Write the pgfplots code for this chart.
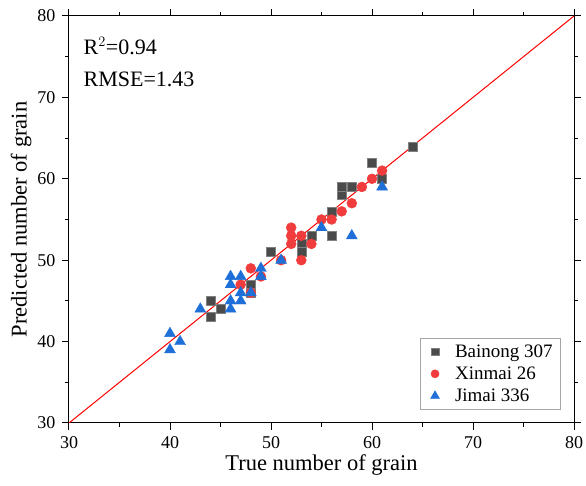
\documentclass[border=0pt]{standalone}
\usepackage{pgfplots}
\pgfplotsset{compat=1.18}
\usepackage{fontspec}
\setmainfont{Liberation Serif}
\definecolor{sq}{HTML}{4A4A4A}
\definecolor{rd}{HTML}{F03C3C}
\definecolor{bl}{HTML}{1F6FD8}
\begin{document}
\begin{tikzpicture}
\begin{axis}[
  scale only axis, width=505pt, height=407pt,
  xmin=30, xmax=80, ymin=30, ymax=80,
  xtick={30,40,...,80}, ytick={30,40,...,80},
  minor tick num=1,
  tick align=outside, tick pos=both,
  major tick length=7pt, minor tick length=4pt,
  tick style={black, line width=1pt},
  axis line style={black, line width=1pt},
  ticklabel style={font=\fontsize{18}{20}\selectfont},
  xticklabel style={yshift=-3pt},
  yticklabel style={xshift=-3pt},
  /pgf/number format/assume math mode=true,
  xlabel={True number of grain}, ylabel={Predicted number of grain},
  label style={font=\fontsize{22.5}{24}\selectfont},
  xlabel style={yshift=1pt}, ylabel style={yshift=-1pt},
  legend style={at={(0.974,0.034)}, anchor=south east, draw=gray!70, font=\fontsize{19}{21}\selectfont, row sep=4pt, inner xsep=6pt, inner ysep=4pt, nodes={inner sep=2pt}},
  legend cell align=left,
  legend image code/.code={\path[draw=none, fill=none] (0pt,0pt) -- (27pt,0pt); \draw[#1, mark size=0.82*\pgfplotmarksize] plot coordinates {(9pt,0pt)};},
]
\addplot[red, line width=1pt, forget plot] coordinates {(30,30) (80,80)};
\addplot[only marks, mark=square*, mark size=4.5pt, color=sq, mark options={draw=sq!70!white, line width=0.4pt, fill=sq}] coordinates {
(44,45) (45,44) (44,43) (48,47) (48,46) (50,51) (53,52) (53,51) (54,53) (56,53) (56,56) (57,58) (57,59) (58,59) (60,62) (61,60) (64,64)
};
\addlegendentry{Bainong 307}
\addplot[only marks, mark=*, mark size=5pt, color=rd, mark options={draw=rd, fill=rd}] coordinates {
(47,47) (48,49) (48,46) (49,48) (51,50) (52,54) (52,53) (52,52) (53,53) (53,50) (54,52) (55,55) (56,55) (57,56) (58,57) (59,59) (60,60) (61,61)
};
\addlegendentry{Xinmai 26}
\addplot[only marks, mark=triangle*, mark size=6.3pt, color=bl, mark options={draw=bl, fill=bl}] coordinates {
(40,41) (40,39) (41,40) (43,44) (46,44) (46,45) (46,47) (46,48) (47,48) (47,46) (47,45) (48,46) (49,49) (49,48) (51,50) (55,54) (58,53) (61,59)
};
\addlegendentry{Jimai 336}
\node[anchor=west, font=\fontsize{22}{24}\selectfont] at (axis cs:31.1,76.3) {R$^{2}$=0.94};
\node[anchor=west, font=\fontsize{22}{24}\selectfont] at (axis cs:31.1,72.2) {RMSE=1.43};
\end{axis}
\pgfresetboundingbox
\path (current axis.south west) ++(-69pt,-63pt) coordinate (bbA);
\path (current axis.north east) ++(12pt,16pt) coordinate (bbB);
\path[use as bounding box] (bbA) rectangle (bbB);
\end{tikzpicture}
\end{document}
